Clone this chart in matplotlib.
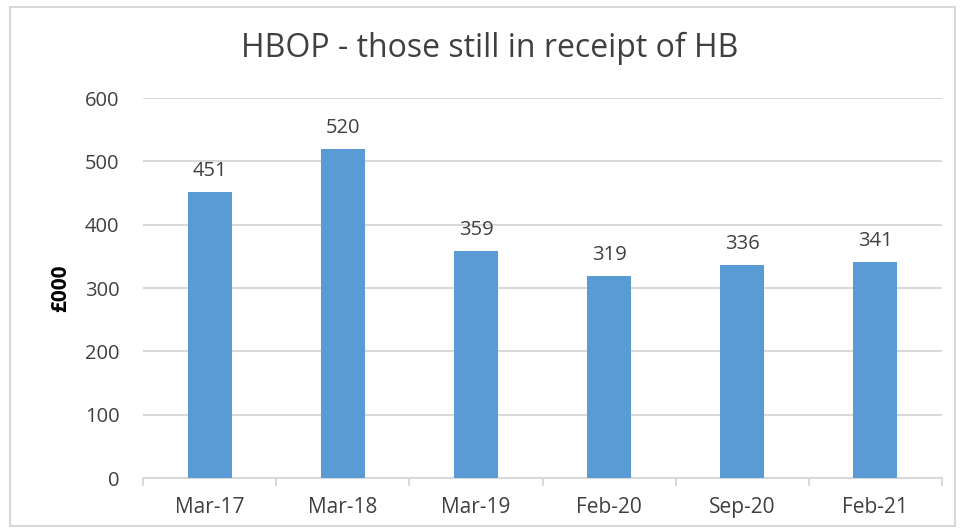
import matplotlib
matplotlib.use("Agg")
import matplotlib.pyplot as plt
from matplotlib.patches import Rectangle

categories = ["Mar-17", "Mar-18", "Mar-19", "Feb-20", "Sep-20", "Feb-21"]
values = [451, 520, 359, 319, 336, 341]
yticks = [0, 100, 200, 300, 400, 500, 600]

plt.rcParams['font.family'] = ['Open Sans', 'DejaVu Sans']
txt = '#404040'

fig = plt.figure(figsize=(9.63, 5.30), dpi=100)
ax = fig.add_axes([143/963, 1-478/530, (942-143)/963, (478-98)/530])

x = list(range(len(categories)))
bars = ax.bar(x, values, width=0.33, color='#5B9BD5', zorder=3)
for xi, v in zip(x, values):
    ax.annotate(str(v), (xi, v), xytext=(0, 8), textcoords='offset points',
                ha='center', va='bottom', fontsize=14.5, color=txt)

ax.set_xlim(-0.5, len(categories) - 0.5)
ax.set_ylim(0, 600)
ax.set_yticks(yticks)
ax.set_yticklabels([str(t) for t in yticks], fontsize=14.5, color=txt)
ax.set_xticks(x)
ax.set_xticklabels(categories, fontsize=15, color=txt)
ax.tick_params(axis='y', length=0, pad=17)
ax.tick_params(axis='x', length=0, pad=14)
# minor ticks at boundaries
ax.set_xticks([i - 0.5 for i in range(len(categories) + 1)], minor=True)
ax.tick_params(axis='x', which='minor', length=6, width=1.5, color='#d9d9d9', direction='out')
ax.grid(axis='y', color='#d9d9d9', linewidth=1.5, zorder=0)
for s in ['top', 'right', 'left']:
    ax.spines[s].set_visible(False)
ax.spines['bottom'].set_color('#d9d9d9')
ax.spines['bottom'].set_linewidth(1.5)

ax.set_ylabel('£000', fontsize=15, fontweight='bold', color='black', labelpad=10)
fig.text(490/963, 1-48/530, 'HBOP - those still in receipt of HB', ha='center', va='center',
         fontsize=23, color=txt)

fig.patches.append(Rectangle((10/963, 1-526/530), 945/963, 519/530, transform=fig.transFigure,
                             fill=False, edgecolor='#d9d9d9', linewidth=1.5))

fig.savefig('out.png', dpi=100)
